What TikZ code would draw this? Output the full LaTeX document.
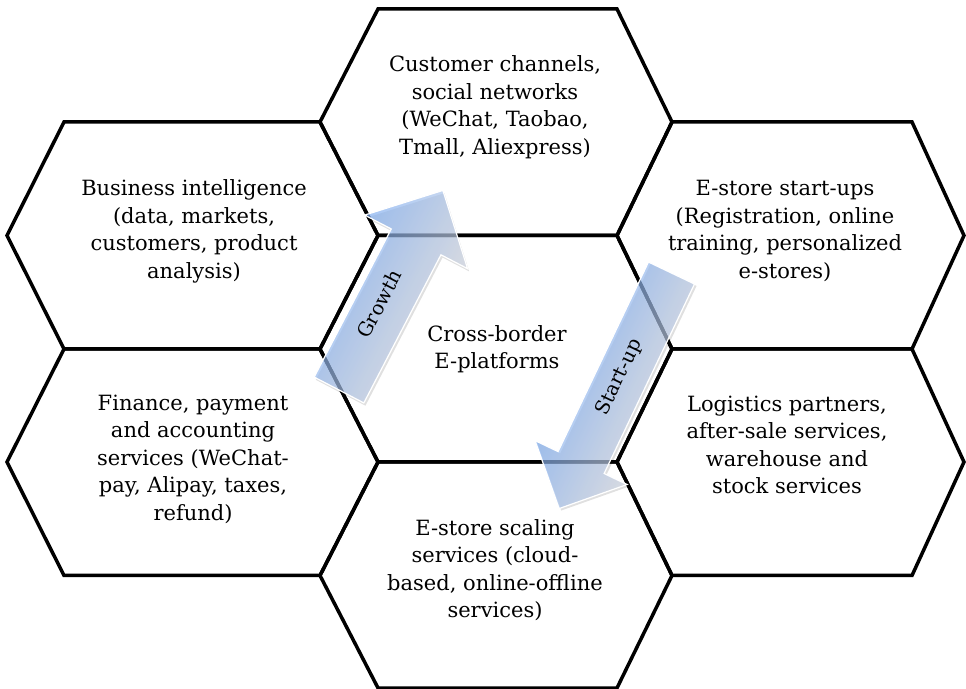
\documentclass[tikz,border=0pt]{standalone}
\usepackage{fontspec}
\setmainfont{DejaVu Serif}
\definecolor{arrowblue}{RGB}{124,171,240}
\definecolor{arrowgray}{RGB}{212,216,226}
\tikzset{
  hexline/.style={draw=black, line width=3.5pt, line join=miter},
  hextext/.style={align=center, font=\fontsize{21}{27.5}\selectfont, inner sep=0pt},
  arrowbody/.style={draw=white, line width=1.2pt, fill opacity=0.68},
  arrowlabel/.style={font=\fontsize{19.5}{23}\selectfont, inner sep=0pt},
}
\newcommand{\drawhex}[7]{\draw[hexline] (#1,#6) -- (#2,#5) -- (#3,#5) -- (#4,#6) -- (#3,#7) -- (#2,#7) -- cycle;}
\begin{document}
\begin{tikzpicture}[x=1pt,y=1pt]
\useasboundingbox (0,0) rectangle (966,688);
% column 0
\drawhex{7}{64}{320}{378}{566}{452.5}{339}
\drawhex{7}{64}{320}{378}{339}{226}{112.5}
% column 1
\drawhex{320}{378}{617}{672}{679}{566}{452.5}
\drawhex{320}{378}{617}{672}{452.5}{339}{226}
\drawhex{320}{378}{617}{672}{226}{112.5}{0}
% column 2
\drawhex{617}{672}{912}{964}{566}{452.5}{339}
\drawhex{617}{672}{912}{964}{339}{226}{112.5}

\node[hextext] (customer) at (495,581) {Customer channels,\\ social networks\\ (WeChat, Taobao,\\ Tmall, Aliexpress)};
\node[hextext] (bi) at (194,456.5) {Business intelligence\\ (data, markets,\\ customers, product\\ analysis)};
\node[hextext] (startups) at (785,457) {E-store start-ups\\ (Registration, online\\ training, personalized\\ e-stores)};
\node[hextext] (center) at (497,339) {Cross-border\\ E-platforms};
\node[hextext] (finance) at (193,229) {Finance, payment\\ and accounting\\ services (WeChat-\\ pay, Alipay, taxes,\\ refund)};
\node[hextext] (logistics) at (787,243) {Logistics partners,\\ after-sale services,\\ warehouse and\\ stock services};
\node[hextext] (scaling) at (495,118) {E-store scaling\\ services (cloud-\\ based, online-offline\\ services)};

% Growth arrow
\begin{scope}[transform canvas={shift={(339,298)},rotate=62.5}]
  \fill[black, opacity=0.12] (-1.7,-30.7) -- (165.3,-30.7) -- (165.3,-60.7) -- (223.3,-2.7) -- (165.3,55.3) -- (165.3,25.3) -- (-1.7,25.3) -- cycle;
  \shadedraw[arrowbody, top color=arrowblue, bottom color=arrowgray]
    (0,-28) -- (167,-28) -- (167,-58) -- (225,0) -- (167,58) -- (167,28) -- (0,28) -- cycle;
  \node[arrowlabel] (growth) at (95,4) {Growth};
\end{scope}
% Start-up arrow
\begin{scope}[transform canvas={shift={(671.5,415)},rotate=244.5}]
  \fill[black, opacity=0.12] (0.9,-22.8) -- (210.9,-22.8) -- (210.9,-48.3) -- (261.9,2.7) -- (210.9,53.7) -- (210.9,28.2) -- (0.9,28.2) -- cycle;
  \shadedraw[arrowbody, top color=arrowgray, bottom color=arrowblue]
    (0,-25.5) -- (210,-25.5) -- (210,-51) -- (261,0) -- (210,51) -- (210,25.5) -- (0,25.5) -- cycle;
  \node[arrowlabel, rotate=180] (startup) at (116.5,-2) {Start-up};
\end{scope}
\end{tikzpicture}
\end{document}
